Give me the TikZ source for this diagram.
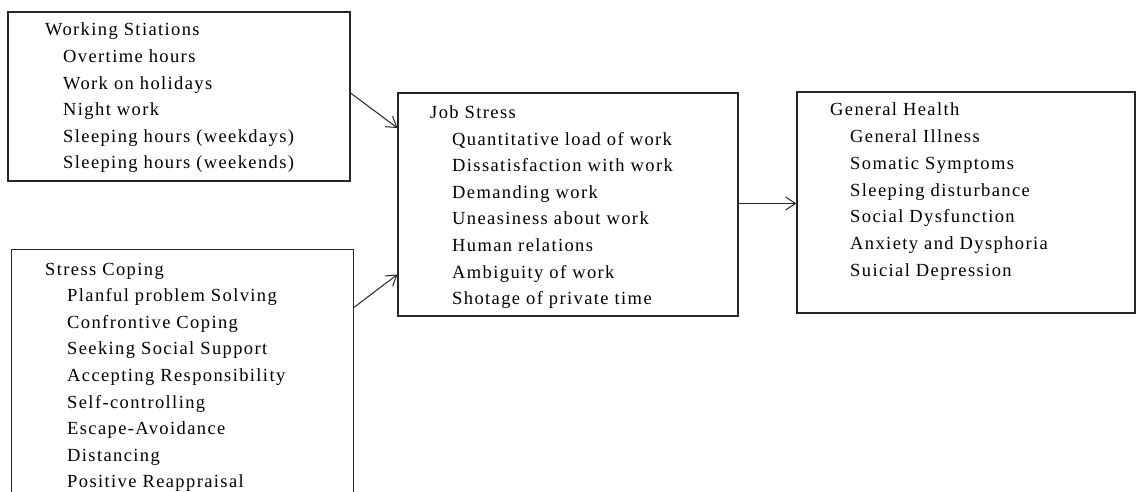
\documentclass[tikz,border=0pt]{standalone}
\usepackage{fontspec}
\setmainfont{Liberation Serif}
\newfontfamily\tfont[LetterSpace=7.5]{Liberation Serif}
\usetikzlibrary{arrows.meta}
\begin{document}
\begin{tikzpicture}[x=1pt,y=-1pt,
  box/.style={draw=black!85, line width=1.1pt, rectangle, inner sep=0pt},
  openbox/.style={rectangle, inner sep=0pt},
  txt/.style={anchor=base west, inner sep=0pt, font=\tfont\fontsize{18.5}{20}\selectfont, text=black},
  arr/.style={line width=1pt, draw=black!85, -{Straight Barb[length=10pt,width=13pt,line width=1pt]}}]
\useasboundingbox[fill=white] (0,0) rectangle (1136,492);
% boxes
\node[box, minimum width=342pt, minimum height=169pt] (b1) at (179,96.5) {};
\node[openbox, minimum width=341pt, minimum height=242pt] (b2) at (182.5,371) {};
\draw[line width=1.1pt, draw=black!85] (b2.south west) -- (b2.north west) -- (b2.north east) -- (b2.south east);
\node[box, minimum width=340pt, minimum height=223pt] (b3) at (568,204.5) {};
\node[box, minimum width=338pt, minimum height=221pt] (b4) at (966,202.5) {};
% texts box 1
\node[txt] (h1) at (45,36) {Working Stiations};
\foreach \t [count=\i] in {Overtime hours, Work on holidays, Night work, Sleeping hours (weekdays), Sleeping hours (weekends)}
  \node[txt] (w\i) at (63,36+\i*26.6) {\t};
% texts box 2
\node[txt] (h2) at (45,275) {Stress Coping};
\foreach \t [count=\i] in {Planful problem Solving, Confrontive Coping, Seeking Social Support, Accepting Responsibility, Self-controlling, Escape-Avoidance, Distancing, Positive Reappraisal}
  \node[txt] (s\i) at (67,275+\i*26.6) {\t};
% texts box 3
\node[txt] (h3) at (430,119) {Job Stress};
\foreach \t [count=\i] in {Quantitative load of work, Dissatisfaction with work, Demanding work, Uneasiness about work, Human relations, Ambiguity of work, Shotage of private time}
  \node[txt] (j\i) at (452,119+\i*26.5) {\t};
% texts box 4
\node[txt] (h4) at (830,116) {General Health};
\foreach \t [count=\i] in {General Illness, Somatic Symptoms, Sleeping disturbance, Social Dysfunction, Anxiety and Dysphoria, Suicial Depression}
  \node[txt] (g\i) at (850,116+\i*26.7) {\t};
% arrows
\draw[arr] ([yshift=3.5pt]b1.east) -- ([yshift=76.5pt]b3.west);
\draw[arr] ([yshift=63pt]b2.east) -- ([yshift=-70pt]b3.west);
\draw[arr] ([yshift=1pt]b3.east) -- ([yshift=1pt]b3.east -| b4.west);
\end{tikzpicture}
\end{document}
